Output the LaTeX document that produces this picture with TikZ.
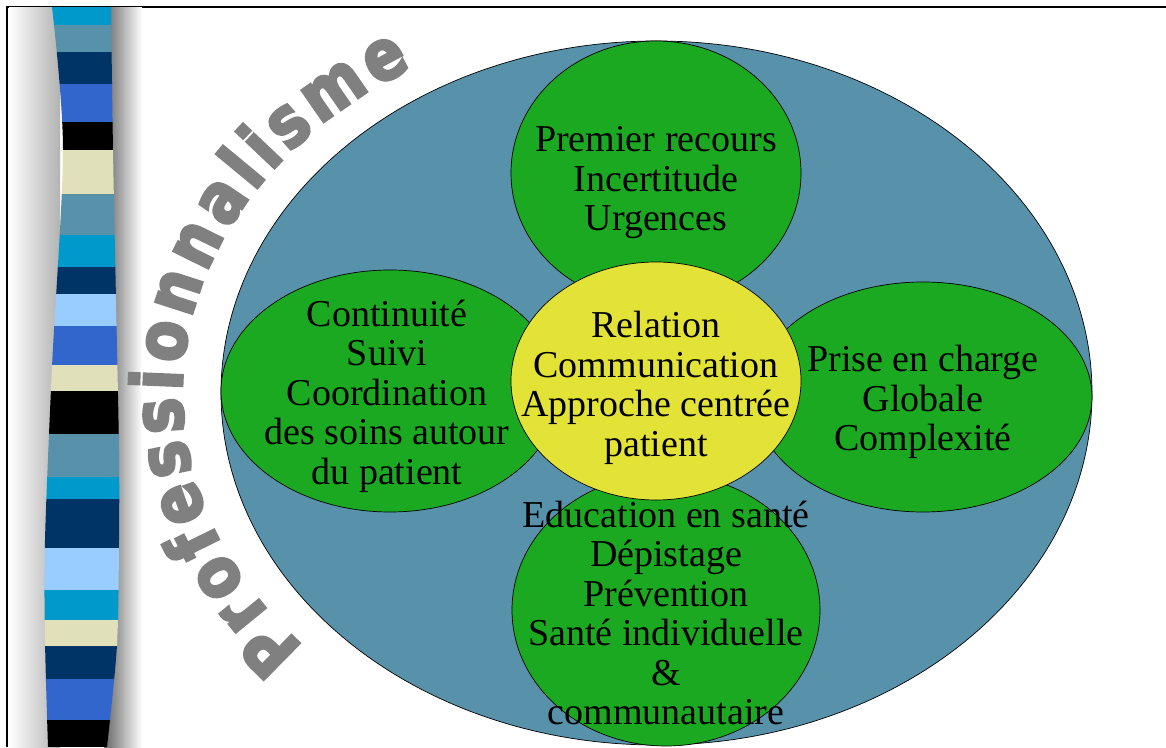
\documentclass[tikz,border=0pt]{standalone}
\usepackage{fontspec}
\setmainfont{Liberation Serif}
\newfontfamily\arcfont{DejaVu Sans}[FakeStretch=0.85, BoldFeatures={FakeBold=4}]
\usepackage{tikz}
\usetikzlibrary{shapes.geometric}
\usetikzlibrary{decorations.text}

\definecolor{steel}{HTML}{5891AA}
\definecolor{leaf}{HTML}{1BA922}
\definecolor{lemon}{HTML}{E3E236}
\definecolor{cyanb}{HTML}{0099CC}
\definecolor{navy}{HTML}{003366}
\definecolor{royal}{HTML}{3366CC}
\definecolor{sand}{HTML}{E0E0BB}
\definecolor{sky}{HTML}{99CCFF}
\definecolor{wordart}{HTML}{808080}

\begin{document}
\begin{tikzpicture}[x=1pt,y=1pt,
		every node/.style={
			ellipse,
			draw=black,
			line width=0.7pt,
			inner sep=0pt
		},
		petal/.style={
			fill=leaf,
			minimum width=338pt
		},
		words/.style={
			rectangle,
			draw=none,
			align=center,
			yshift=-5pt,
			font=\fontsize{38}{39.5}\selectfont
		}]

		\useasboundingbox (0,0) rectangle (1166,747);

		%frame
		\draw[line width=2pt] (7,0) -- (7,740) -- (1166,740);
		\draw[black!35] (14,0.5) -- (139,0.5);

		%ribbon
		\shade[left color=white, right color=black!30] (9,0) rectangle (60,739);
		\shade[left color=black!60, right color=white] (104,0) rectangle (142,739);
		\begin{scope}
			\clip plot[smooth] coordinates {(52,740) (63,597) (52,380) (45,207) (45,107) (48,0)}
				-- plot[smooth] coordinates {(107,0) (117,102) (119,207) (119,297) (116,447) (113,597) (111,740)}
				-- cycle;
			\foreach \ya/\yb/\col in {7/25/cyanb, 25/52/steel, 52/84/navy, 84/122/royal,
					122/150/black, 150/194/sand, 194/235/steel, 235/267/cyanb, 267/294/navy,
					294/326/sky, 326/365/royal, 365/391/sand, 391/434/black, 434/477/steel,
					477/499/cyanb, 499/548/navy, 548/590/sky, 590/620/cyanb, 620/646/sand,
					646/679/navy, 679/720/royal, 720/747/black}
				\fill[\col] (30,747-\ya) rectangle (140,747-\yb);
		\end{scope}

		%word art
		\path[decorate, decoration={text along path,
				text={|\arcfont\bfseries\fontsize{70}{70}\selectfont\color{wordart}|Professionnalisme},
				text align={fit to path}}]
			(656,354) ++(222:474 and 379) arc[start angle=222, end angle=121, x radius=474, y radius=379];

		\node[fill=steel, minimum width=871pt, minimum height=704pt] at (656.5,354) (outer) {};

		\coordinate (hub) at (656,366);

		\node[above of=hub, node distance=208pt, petal, minimum width=290pt, minimum height=264pt] (top) {};
		\node[left of=hub, node distance=266pt, yshift=-10pt, petal, minimum height=242pt] (left) {};
		\node[right of=hub, node distance=267pt, yshift=-16pt, petal, minimum height=230pt] (right) {};
		\node[below of=hub, node distance=229pt, xshift=10pt, petal, minimum width=308pt, minimum height=272pt] (bottom) {};
		\node[fill=lemon, minimum width=290pt, minimum height=238pt] at (hub) (core) {};

		%labels
		\node[words, yshift=-5pt] at (top) {Premier recours\\Incertitude\\Urgences};
		\node[words, xshift=-3pt] at (left) {Continuité\\Suivi\\Coordination\\des soins autour\\du patient};
		\node[words] at (right) {Prise en charge\\Globale\\Complexité};
		\node[words, yshift=-2pt] at (core) {Relation\\Communication\\Approche centrée\\patient};
		\node[words, yshift=2pt] at (bottom) {Education en santé\\Dépistage\\Prévention\\Santé individuelle\\\&\\communautaire};

	\end{tikzpicture}
\end{document}
